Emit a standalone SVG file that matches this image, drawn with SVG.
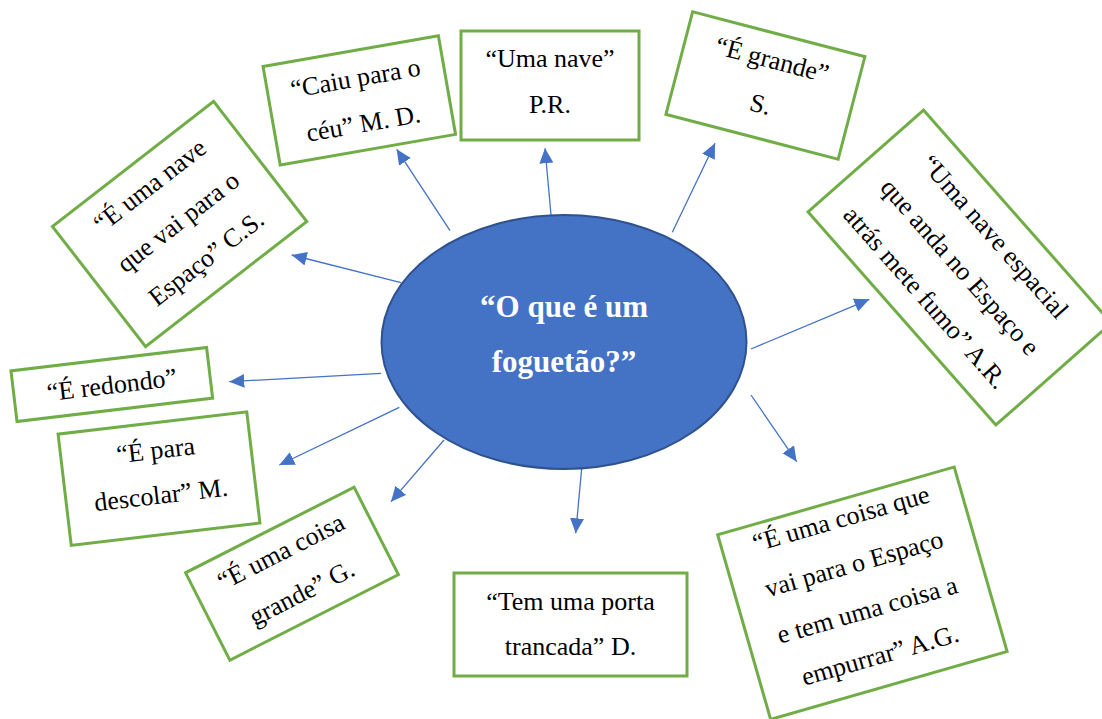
<svg xmlns="http://www.w3.org/2000/svg" width="1102" height="719" viewBox="0 0 1102 719">
<style>
.box{fill:#ffffff;stroke:#70AD47;stroke-width:3}
.t{font-family:"Liberation Serif","Times New Roman",serif;font-size:26px;fill:#000000;text-anchor:middle}
.c{font-family:"Liberation Serif","Times New Roman",serif;font-size:31px;font-weight:bold;fill:#ffffff;text-anchor:middle}
.ln{stroke:#4472C4;stroke-width:1.3;fill:none;marker-end:url(#ah)}
</style>
<defs>
<marker id="ah" markerUnits="userSpaceOnUse" markerWidth="16" markerHeight="15" refX="15" refY="7" orient="auto">
<path d="M0,0 L15,7 L0,14 Z" fill="#4472C4"/>
</marker>
</defs>
<rect width="1102" height="719" fill="#ffffff"/>
<g id="connectors">
<line class="ln" x1="450" y1="230.7" x2="396.7" y2="149.3"/>
<line class="ln" x1="551" y1="215" x2="545" y2="148.3"/>
<line class="ln" x1="672.3" y1="232.3" x2="715" y2="143.3"/>
<line class="ln" x1="401" y1="282.7" x2="291.7" y2="255"/>
<line class="ln" x1="751" y1="349" x2="869.3" y2="299.3"/>
<line class="ln" x1="381" y1="373.3" x2="229.3" y2="381.7"/>
<line class="ln" x1="399.3" y1="407.3" x2="279.3" y2="465"/>
<line class="ln" x1="444" y1="440" x2="391" y2="501.7"/>
<line class="ln" x1="581.7" y1="468.3" x2="575.7" y2="533.3"/>
<line class="ln" x1="751" y1="395" x2="796.7" y2="461.7"/>
</g>
<g id="center">
<ellipse cx="564" cy="342" rx="182.5" ry="127" fill="#4472C4" stroke="#2F528F" stroke-width="2"/>
<text class="c" x="564" y="317">“O que é um</text>
<text class="c" x="564" y="372">foguetão?”</text>
</g>
<g id="n-caiu" transform="translate(359.3,100.4) rotate(-9.9)">
<rect class="box" x="-89" y="-50" width="178" height="100"/>
<text class="t" x="0" y="-14">“Caiu para o</text>
<text class="t" x="0" y="32">céu” M. D.</text>
</g>
<g id="n-uma-nave">
<rect class="box" x="461" y="31" width="178" height="109"/>
<text class="t" x="550" y="67">“Uma nave”</text>
<text class="t" x="550" y="113">P.R.</text>
</g>
<g id="n-grande" transform="translate(765.4,85.5) rotate(14.6)">
<rect class="box" x="-89" y="-53" width="178" height="106"/>
<text class="t" x="0" y="-18">“É grande”</text>
<text class="t" x="0" y="28">S.</text>
</g>
<g id="n-nave-espaco" transform="translate(179.6,224) rotate(-37.8)">
<rect class="box" x="-102" y="-76" width="204" height="152"/>
<text class="t" x="0" y="-40">“É uma nave</text>
<text class="t" x="0" y="6">que vai para o</text>
<text class="t" x="0" y="52">Espaço” C.S.</text>
</g>
<g id="n-fumo" transform="translate(959.7,267.5) rotate(48.6)">
<rect class="box" x="-142" y="-77" width="284" height="154"/>
<text class="t" x="0" y="-38">“Uma nave espacial</text>
<text class="t" x="0" y="8">que anda no Espaço e</text>
<text class="t" x="0" y="54">atrás mete fumo” A.R.</text>
</g>
<g id="n-redondo" transform="translate(111.8,384.5) rotate(-6.8)">
<rect class="box" x="-98.5" y="-25.5" width="197" height="51"/>
<text class="t" x="0" y="9">“É redondo”</text>
</g>
<g id="n-descolar" transform="translate(159,478.6) rotate(-6.75)">
<rect class="box" x="-95" y="-56" width="190" height="112"/>
<text class="t" x="0" y="-20">“É para</text>
<text class="t" x="0" y="25">descolar” M.</text>
</g>
<g id="n-coisa-grande" transform="translate(292,573.7) rotate(-26.9)">
<rect class="box" x="-94.5" y="-49" width="189" height="98"/>
<text class="t" x="0" y="-16">“É uma coisa</text>
<text class="t" x="0" y="30">grande” G.</text>
</g>
<g id="n-porta">
<rect class="box" x="454" y="573" width="233" height="103"/>
<text class="t" x="570.5" y="610">“Tem uma porta</text>
<text class="t" x="570.5" y="655">trancada” D.</text>
</g>
<g id="n-empurrar" transform="translate(862.4,593.2) rotate(-16)">
<rect class="box" x="-123" y="-96" width="246" height="192"/>
<text class="t" x="0" y="-69">“É uma coisa que</text>
<text class="t" x="0" y="-22">vai para o Espaço</text>
<text class="t" x="0" y="26">e tem uma coisa a</text>
<text class="t" x="0" y="73">empurrar” A.G.</text>
</g>
</svg>
